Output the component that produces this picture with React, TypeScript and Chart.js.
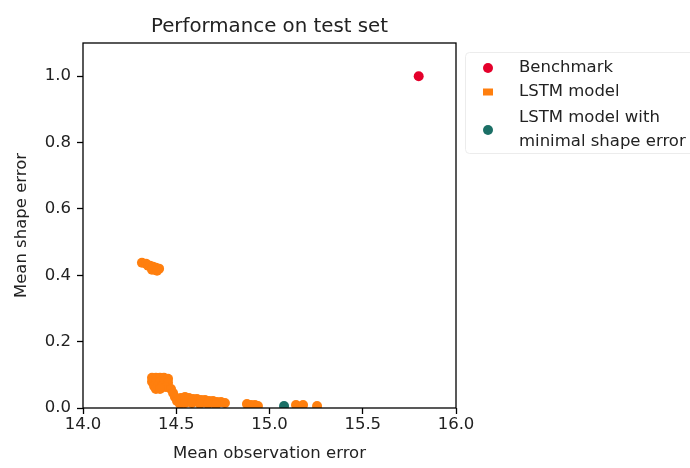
import React, { useEffect, useRef } from "react";
import { Chart, registerables } from "chart.js";

Chart.register(...registerables);

// Scatter values: mean observation error (x) vs mean shape error (y)
const benchmarkX = [15.8];
const benchmarkY = [1.0];

const lstmX = [
  // runs near 0.42
  14.316, 14.338, 14.349, 14.359, 14.375, 14.386, 14.391, 14.408, 14.370, 14.397,
  // runs near 0.07
  14.370, 14.391, 14.413, 14.434, 14.456,
  14.370, 14.391, 14.413, 14.434, 14.456,
  14.381, 14.402, 14.424, 14.445,
  14.391, 14.413,
  // runs trailing towards 0
  14.472, 14.483, 14.493, 14.504, 14.520,
  14.525, 14.547, 14.568, 14.590, 14.611, 14.633, 14.654, 14.676, 14.697, 14.718, 14.740, 14.761,
  14.547, 14.584, 14.627, 14.670, 14.713,
  14.879, 14.901, 14.922, 14.938,
  15.142, 15.180,
  15.255,
];
const lstmY = [
  0.438, 0.435, 0.429, 0.429, 0.426, 0.417, 0.423, 0.420, 0.417, 0.414,
  0.091, 0.091, 0.091, 0.091, 0.088,
  0.079, 0.079, 0.079, 0.079, 0.076,
  0.066, 0.066, 0.066, 0.063,
  0.057, 0.057,
  0.057, 0.045, 0.033, 0.021, 0.012,
  0.030, 0.033, 0.030, 0.027, 0.027, 0.024, 0.024, 0.021, 0.021, 0.018, 0.018, 0.015,
  0.015, 0.015, 0.012, 0.012, 0.009,
  0.012, 0.009, 0.009, 0.006,
  0.009, 0.009,
  0.006,
];

const bestX = [15.078];
const bestY = [0.006];

const xTicks = [14.0, 14.5, 15.0, 15.5, 16.0];
const yTicks = [0.0, 0.2, 0.4, 0.6, 0.8, 1.0];

const seriesNames = ["Benchmark", "LSTM model", "LSTM model with\nminimal shape error"];
const seriesColors = ["#e4002b", "#ff7f0e", "#1b6f66"];

const TITLE = "Performance on test set";
const X_LABEL = "Mean observation error";
const Y_LABEL = "Mean shape error";

const FONT = '"DejaVu Sans", sans-serif';
const TEXT = "#222222";

const toPoints = (xs: number[], ys: number[]) => xs.map((x, i) => ({ x, y: ys[i] }));

// Frame, title, axis labels and the legend box drawn around the plot area
const decorPlugin = {
  id: "decor",
  afterDraw(chart: any) {
    const { ctx, chartArea: a } = chart;
    ctx.save();
    ctx.strokeStyle = "#000";
    ctx.lineWidth = 1.3;
    ctx.strokeRect(a.left, a.top, a.right - a.left, a.bottom - a.top);

    const cx = (a.left + a.right) / 2;
    ctx.fillStyle = TEXT;
    ctx.textAlign = "center";
    ctx.textBaseline = "middle";
    ctx.font = `19.8px ${FONT}`;
    ctx.fillText(TITLE, cx, 27);

    ctx.font = `16.5px ${FONT}`;
    ctx.fillText(X_LABEL, cx, 454);

    ctx.save();
    ctx.translate(22, (a.top + a.bottom) / 2);
    ctx.rotate(-Math.PI / 2);
    ctx.fillText(Y_LABEL, 0, 0);
    ctx.restore();

    // legend frame
    const lx = a.right + 9.5;
    const ly = 52.5;
    const lw = 260;
    const lh = 101;
    const r = 4;
    ctx.beginPath();
    ctx.moveTo(lx + r, ly);
    ctx.lineTo(lx + lw - r, ly);
    ctx.arcTo(lx + lw, ly, lx + lw, ly + r, r);
    ctx.lineTo(lx + lw, ly + lh - r);
    ctx.arcTo(lx + lw, ly + lh, lx + lw - r, ly + lh, r);
    ctx.lineTo(lx + r, ly + lh);
    ctx.arcTo(lx, ly + lh, lx, ly + lh - r, r);
    ctx.lineTo(lx, ly + r);
    ctx.arcTo(lx, ly, lx + r, ly, r);
    ctx.closePath();
    ctx.fillStyle = "rgba(255,255,255,0.8)";
    ctx.fill();
    ctx.strokeStyle = "#ececec";
    ctx.lineWidth = 1;
    ctx.stroke();

    // legend entries
    const markerX = a.right + 32;
    const textX = a.right + 63;
    const rows = [68, 92, 130];
    ctx.textAlign = "left";
    ctx.font = `16.5px ${FONT}`;
    seriesNames.forEach((name, i) => {
      const y = rows[i];
      ctx.fillStyle = seriesColors[i];
      if (i === 1) {
        ctx.fillRect(markerX - 5, y - 3.5, 10, 7);
      } else {
        ctx.beginPath();
        ctx.arc(markerX, y, 5, 0, Math.PI * 2);
        ctx.fill();
      }
      ctx.fillStyle = TEXT;
      const lines = name.split("\n");
      const lineH = 24;
      const start = y - ((lines.length - 1) * lineH) / 2;
      lines.forEach((ln, k) => ctx.fillText(ln, textX, start + k * lineH));
    });
    ctx.restore();
  },
};

export default function App() {
  const canvasRef = useRef<HTMLCanvasElement | null>(null);

  useEffect(() => {
    if (!canvasRef.current) return;
    const chart = new Chart(canvasRef.current, {
      type: "scatter",
      data: {
        datasets: [
          {
            label: seriesNames[0],
            data: toPoints(benchmarkX, benchmarkY),
            backgroundColor: seriesColors[0],
            borderWidth: 0,
            pointRadius: 5,
            order: 0,
            clip: 0,
          },
          {
            label: seriesNames[1],
            data: toPoints(lstmX, lstmY),
            backgroundColor: seriesColors[1],
            borderWidth: 0,
            pointRadius: 5,
            order: 1,
            clip: 0,
          },
          {
            label: seriesNames[2],
            data: toPoints(bestX, bestY),
            backgroundColor: seriesColors[2],
            borderWidth: 0,
            pointRadius: 5,
            order: 0,
            clip: 0,
          },
        ],
      },
      options: {
        responsive: false,
        animation: false,
        events: [],
        layout: { padding: { left: 0, top: 43, right: 234, bottom: 0 } },
        plugins: {
          legend: { display: false },
          title: { display: false },
          tooltip: { enabled: false },
        },
        scales: {
          x: {
            type: "linear",
            min: xTicks[0],
            max: xTicks[xTicks.length - 1],
            afterFit: (s: any) => {
              s.height = 60;
            },
            afterBuildTicks: (s: any) => {
              s.ticks = xTicks.map((v) => ({ value: v }));
            },
            ticks: {
              font: { family: FONT, size: 16.5 },
              color: TEXT,
              padding: 1,
              maxRotation: 0,
              callback: (v: any) => Number(v).toFixed(1),
            },
            grid: {
              drawOnChartArea: false,
              drawTicks: true,
              tickLength: 6,
              tickColor: "#000",
              tickWidth: 1.3,
            },
            border: { display: false },
          },
          y: {
            type: "linear",
            min: 0,
            max: 1.1,
            afterFit: (s: any) => {
              s.width = 83;
            },
            afterBuildTicks: (s: any) => {
              s.ticks = yTicks.map((v) => ({ value: v }));
            },
            ticks: {
              font: { family: FONT, size: 16.5 },
              color: TEXT,
              padding: 6,
              callback: (v: any) => Number(v).toFixed(1),
            },
            grid: {
              drawOnChartArea: false,
              drawTicks: true,
              tickLength: 6,
              tickColor: "#000",
              tickWidth: 1.3,
            },
            border: { display: false },
          },
        },
      },
      plugins: [decorPlugin],
    });
    return () => chart.destroy();
  }, []);

  return (
    <div style={{ position: "absolute", left: 0, top: 0, width: 690, height: 468, background: "#fff" }}>
      <canvas ref={canvasRef} width={690} height={468} style={{ display: "block" }} />
    </div>
  );
}
